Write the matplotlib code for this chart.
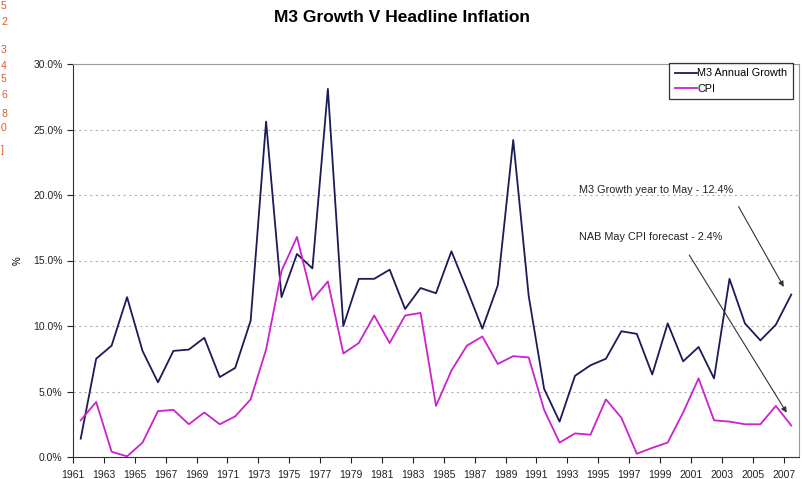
import numpy as np
import matplotlib
matplotlib.use("Agg")
import matplotlib.pyplot as plt
from matplotlib.ticker import FuncFormatter

plt.rcParams['font.family'] = ['Liberation Sans', 'DejaVu Sans']

# data (annual %, 1961-2007)
years = list(range(1961, 2008))
m3_growth = [1.4, 7.5, 8.5, 12.2, 8.1, 5.7, 8.1, 8.2, 9.1, 6.1,
             6.8, 10.4, 25.6, 12.2, 15.5, 14.4, 28.1, 10.0, 13.6, 13.6,
             14.3, 11.3, 12.9, 12.5, 15.7, 12.8, 9.8, 13.1, 24.2, 12.3,
             5.2, 2.7, 6.2, 7.0, 7.5, 9.6, 9.4, 6.3, 10.2, 7.3,
             8.4, 6.0, 13.6, 10.2, 8.9, 10.1, 12.4]
cpi = [2.8, 4.2, 0.4, 0.05, 1.1, 3.5, 3.6, 2.5, 3.4, 2.5,
       3.1, 4.4, 8.2, 14.2, 16.8, 12.0, 13.4, 7.9, 8.7, 10.8,
       8.7, 10.8, 11.0, 3.9, 6.6, 8.5, 9.2, 7.1, 7.7, 7.6,
       3.6, 1.1, 1.8, 1.7, 4.4, 3.0, 0.25, 0.7, 1.1, 3.4,
       6.0, 2.8, 2.7, 2.5, 2.5, 3.9, 2.4]
tick_years = list(range(1961, 2008, 2))
stray_chars = ['5', '2', '3', '4', '5', '6', '8', '0', ']']
stray_y = [6, 22, 50, 66, 79, 95, 114, 128, 150]

W, H = 803, 479
fig = plt.figure(figsize=(W / 100, H / 100), dpi=100)
ax = fig.add_axes([73 / W, (H - 457) / H, 726 / W, 393 / H])

x = np.array(years) + 0.5
ax.plot(x, m3_growth, color='#1b1b55', lw=1.3, label='M3 Annual Growth')
ax.plot(x, cpi, color='#cc22cc', lw=1.3, label='CPI')

ax.set_xlim(1961, 2008)
ax.set_ylim(0, 30)
ax.set_xticks(tick_years)
ax.set_xticklabels([str(y) for y in tick_years])
ax.set_yticks(np.arange(0, 31, 5))
ax.yaxis.set_major_formatter(FuncFormatter(lambda v, p: f"{v:.1f}%"))
ax.tick_params(labelsize=7.5, length=4, width=0.8, direction='out', colors='#222222')
ax.tick_params(axis='x', pad=5)

for v in range(5, 30, 5):
    ax.axhline(v, color='#b0b0b0', lw=0.8, ls=(0, (2, 3)), zorder=0)

ax.spines['top'].set_color('#999999')
ax.spines['right'].set_color('#999999')
ax.spines['left'].set_color('#333333')
ax.spines['bottom'].set_color('#333333')

ax.set_ylabel('%', fontsize=7)
ax.yaxis.set_label_coords(-0.07, 0.5)
fig.text(402 / W, 1 - 18 / H, 'M3 Growth V Headline Inflation', ha='center', va='center',
         fontsize=12.5, fontweight='bold')

leg = ax.legend(loc='upper right', bbox_to_anchor=(793 / W, 1 - 63 / H),
                bbox_transform=fig.transFigure, fontsize=7.8, frameon=True,
                fancybox=False, handlelength=2.1, handletextpad=0.0,
                borderpad=0.5, labelspacing=0.5, borderaxespad=0)
leg.get_frame().set_edgecolor('black')
leg.get_frame().set_linewidth(0.9)

# annotations
ax.text(1993.75, 20.4, 'M3 Growth year to May - 12.4%', fontsize=7.8,
        color='#222222', ha='left', va='center')
ax.annotate('', xy=(2007.1, 12.8), xytext=(2004.0, 19.3),
            arrowprops=dict(arrowstyle='-|>', color='#333333', lw=0.8, mutation_scale=8))
ax.text(1993.75, 16.8, 'NAB May CPI forecast - 2.4%', fontsize=7.8,
        color='#222222', ha='left', va='center')
ax.annotate('', xy=(2007.3, 3.2), xytext=(2000.8, 15.6),
            arrowprops=dict(arrowstyle='-|>', color='#333333', lw=0.8, mutation_scale=8))

# orange text at the left edge of the picture
for s, yy in zip(stray_chars, stray_y):
    fig.text(1 / W, 1 - yy / H, s, ha='left', va='center', fontsize=7.5, color='#e05a30')

fig.savefig('out.png', dpi=100)
